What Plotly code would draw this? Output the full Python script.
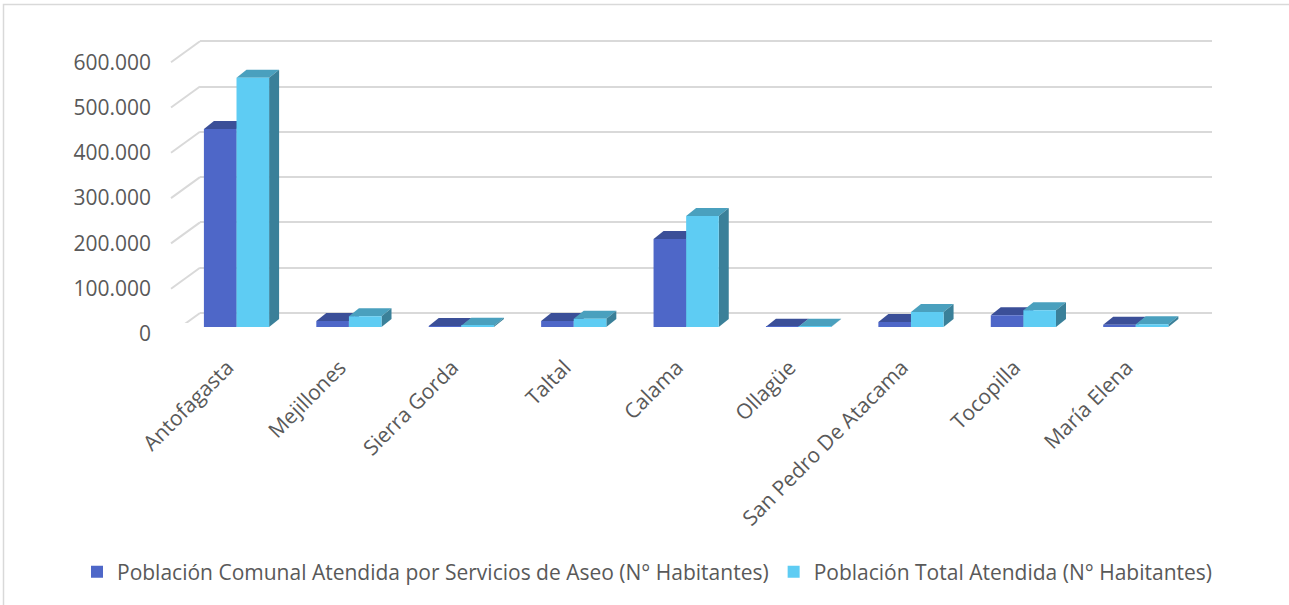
import plotly.graph_objects as go

# ---------------- data ----------------
comunas = ["Antofagasta", "Mejillones", "Sierra Gorda", "Taltal", "Calama",
           "Ollagüe", "San Pedro De Atacama", "Tocopilla", "María Elena"]
pob_comunal = [437000, 13000, 2000, 13000, 194000, 300, 11000, 26000, 5000]
pob_total = [550000, 24000, 3000, 18000, 245000, 300, 33000, 37000, 6000]
serie_comunal = "Población Comunal Atendida por Servicios de Aseo (N° Habitantes)"
serie_total = "Población Total Atendida (N° Habitantes)"
y_ticks = [0, 100000, 200000, 300000, 400000, 500000, 600000]
y_ticktext = ["0", "100.000", "200.000", "300.000", "400.000", "500.000", "600.000"]

# ---------------- geometry (pixels) ----------------
W, H = 1289, 605
PX_PER_UNIT = 45.3 / 100000.0      # vertical scale
FONT = "Open Sans"
TXT = "#595959"
FS = 21

def fx(p):
    return p / W

def fy(p):
    return 1 - p / H

def yrange(p_top, p_bot, p_zero):
    return [-(p_bot - p_zero) / PX_PER_UNIT, (p_zero - p_top) / PX_PER_UNIT]

# front (bars) plane
BX0, BX1 = 180.3, 1192.0
BY_TOP, BY_BOT, BY_ZERO = 10, 330, 327
# back wall (gridlines)
GX0, GX1 = 200, 1212
GY_TOP, GY_BOT, GY_ZERO = 10, 323, 313

n = len(comunas)
cat_px = (BX1 - BX0) / n
BARGAP = 0.42
half = (1 - BARGAP) / 2
DXP, DYP = 10, 8                       # depth offset in px
ddx = DXP / cat_px
ddy = DYP / PX_PER_UNIT

C_BLUE = "#4E67C8"
C_BLUE_TOP = "#3B4F98"
C_BLUE_SIDE = "#34468A"
C_CYAN = "#5ECCF3"
C_CYAN_TOP = "#4AA0BE"
C_CYAN_SIDE = "#3A8099"

fig = go.Figure()

# invisible trace for the back-wall subplot
fig.add_trace(go.Scatter(x=[0], y=[0], xaxis="x", yaxis="y", mode="markers",
                         marker=dict(opacity=0), showlegend=False, hoverinfo="skip"))

fig.add_trace(go.Bar(x=list(range(n)), y=pob_comunal, name=serie_comunal,
                     marker=dict(color=C_BLUE, line=dict(width=0)),
                     xaxis="x2", yaxis="y2"))
fig.add_trace(go.Bar(x=list(range(n)), y=pob_total, name=serie_total,
                     marker=dict(color=C_CYAN, line=dict(width=0)),
                     xaxis="x2", yaxis="y2"))

shapes = []

def faces(vals, offs, top_col, side_col):
    for i, v in enumerate(vals):
        xl = i + offs
        xr = xl + half
        path = (f"M {xl},{v} L {xr},{v} L {xr+ddx},{v+ddy} L {xl+ddx},{v+ddy} Z")
        shapes.append(dict(type="path", path=path, xref="x2", yref="y2",
                           fillcolor=top_col, line=dict(width=0), layer="between"))
        path = (f"M {xr},0 L {xr},{v} L {xr+ddx},{v+ddy} L {xr+ddx},{ddy} Z")
        shapes.append(dict(type="path", path=path, xref="x2", yref="y2",
                           fillcolor=side_col, line=dict(width=0), layer="between"))

faces(pob_comunal, -half, C_BLUE_TOP, C_BLUE_SIDE)
faces(pob_total, 0.0, C_CYAN_TOP, C_CYAN_SIDE)

# slanted floor-to-wall lines at each tick
for t in y_ticks:
    shapes.append(dict(type="line", xref="paper", yref="y", ysizemode="pixel",
                       yanchor=t, y0=0, y1=-21, x0=fx(GX0), x1=fx(171),
                       line=dict(color="#D9D9D9", width=2), layer="below"))

# chart border
shapes.append(dict(type="rect", xref="paper", yref="paper",
                   x0=fx(3.5), x1=fx(1300), y0=fy(4.5), y1=fy(620),
                   line=dict(color="#D9D9D9", width=1.5), fillcolor="rgba(0,0,0,0)"))

fig.update_layout(
    width=W, height=H,
    margin=dict(l=0, r=0, t=0, b=0, autoexpand=False),
    paper_bgcolor="white", plot_bgcolor="rgba(0,0,0,0)",
    font=dict(family=FONT, color=TXT, size=FS),
    barmode="group", bargap=BARGAP, bargroupgap=0,
    showlegend=True,
    legend=dict(orientation="h", x=fx(77), y=fy(572), xanchor="left", yanchor="middle",
                font=dict(size=FS, color=TXT, family=FONT), bgcolor="rgba(0,0,0,0)",
                itemclick=False, tracegroupgap=0),
    shapes=shapes,
    xaxis=dict(domain=[fx(GX0), fx(GX1)], range=[0, 1], showgrid=False, zeroline=False,
               showticklabels=False, showline=False, fixedrange=True),
    yaxis=dict(domain=[fy(GY_BOT), fy(GY_TOP)], range=yrange(GY_TOP, GY_BOT, GY_ZERO),
               tickvals=y_ticks, ticktext=y_ticktext, showgrid=True,
               gridcolor="#D9D9D9", gridwidth=2, zeroline=False, showline=False,
               ticks="", ticklabelshift=21, ticklabelstandoff=48,
               tickfont=dict(size=FS, color=TXT, family=FONT), fixedrange=True),
    xaxis2=dict(domain=[fx(BX0), fx(BX1)], range=[-0.5, n - 0.5], anchor="y2",
                tickvals=list(range(n)), ticktext=comunas, tickangle=-45,
                ticks="outside", ticklen=16, tickcolor="rgba(0,0,0,0)",
                ticklabelshift=-9,
                showgrid=False, zeroline=False, showline=False,
                tickfont=dict(size=FS, color=TXT, family=FONT), fixedrange=True),
    yaxis2=dict(domain=[fy(BY_BOT), fy(BY_TOP)], range=yrange(BY_TOP, BY_BOT, BY_ZERO),
                anchor="x2", showgrid=False, zeroline=False, showline=False,
                showticklabels=False, fixedrange=True),
)

fig.write_html("out.html", config={"displayModeBar": False},
               post_script="document.body.style.margin='0';")
